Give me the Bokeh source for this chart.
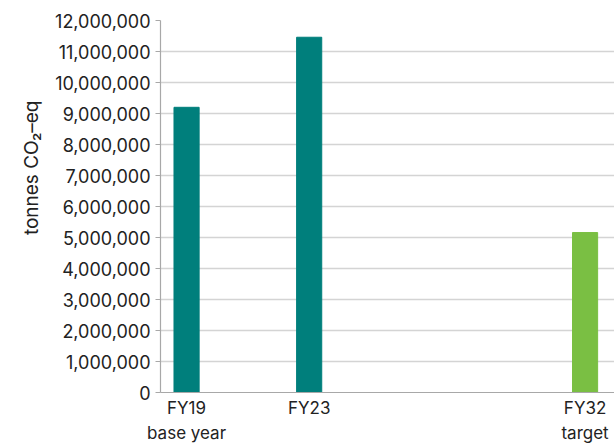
from bokeh.plotting import figure
from bokeh.models import FixedTicker, NumeralTickFormatter, Range1d, Title, LinearAxis
from bokeh.embed import file_html
from bokeh.resources import INLINE

years = [19, 23, 32]
labels = ["FY19", "FY23", "FY32"]
sub_labels = ["base year", "", "target"]
emissions = [9200000, 11460000, 5160000]
colors = ["#007f7c", "#007f7c", "#7abf43"]
y_ticks = list(range(0, 12000001, 1000000))
y_title = "tonnes CO\u2082\u2013eq"

FONT = "Inter"
TXT = "#222222"

p = figure(width=614, height=446, output_backend="svg", toolbar_location=None,
           x_range=Range1d(18.15, 32.96), y_range=Range1d(0, 12000000),
           min_border_left=160, min_border_right=0, min_border_top=20, min_border_bottom=54)
p.outline_line_color = None

p.vbar(x=years, top=emissions, width=0.82, color=colors)

p.xgrid.grid_line_color = None
p.ygrid.grid_line_color = "#d4d4d4"
p.ygrid.grid_line_width = 1.5
p.ygrid.ticker = FixedTicker(ticks=y_ticks)

p.yaxis.ticker = FixedTicker(ticks=y_ticks)
p.yaxis.formatter = NumeralTickFormatter(format="0,0")
p.yaxis.major_label_text_font = FONT
p.yaxis.major_label_text_font_size = "18px"
p.yaxis.major_label_text_color = TXT
p.yaxis.major_label_standoff = 5
p.yaxis.axis_line_color = "#a8a8a8"
p.yaxis.axis_line_width = 1.2
p.yaxis.major_tick_line_color = "#a8a8a8"
p.yaxis.major_tick_out = 5
p.yaxis.major_tick_in = 0
p.yaxis.minor_tick_line_color = None

t = Title(text=y_title, align="right", offset=80, text_font=FONT,
          text_font_size="19px", text_font_style="normal", text_color=TXT, standoff=19)
p.add_layout(t, "left")

p.xaxis.ticker = FixedTicker(ticks=years)
p.xaxis.major_label_overrides = {y: l for y, l in zip(years, labels)}
p.xaxis.major_label_text_font = FONT
p.xaxis.major_label_text_font_size = "17px"
p.xaxis.major_label_text_color = TXT
p.xaxis.major_label_standoff = 5
p.xaxis.major_tick_out = 0
p.xaxis.major_tick_in = 0
p.xaxis.axis_label_standoff = 0
p.xaxis.axis_line_color = "#a8a8a8"
p.xaxis.axis_line_width = 1.2
p.xaxis.major_tick_line_color = None
p.xaxis.minor_tick_line_color = None

sub_years = [y for y, s in zip(years, sub_labels) if s]
ax2 = LinearAxis(ticker=FixedTicker(ticks=sub_years),
                 major_label_overrides={y: s for y, s in zip(years, sub_labels) if s},
                 major_label_text_font=FONT, major_label_text_font_size="17px",
                 major_label_text_color=TXT, major_label_standoff=2,
                 axis_label_standoff=0,
                 axis_line_color=None, major_tick_line_color=None,
                 minor_tick_line_color=None, major_tick_out=0, major_tick_in=0)
p.add_layout(ax2, "below")

open("out.html", "w").write(file_html(p, INLINE))
